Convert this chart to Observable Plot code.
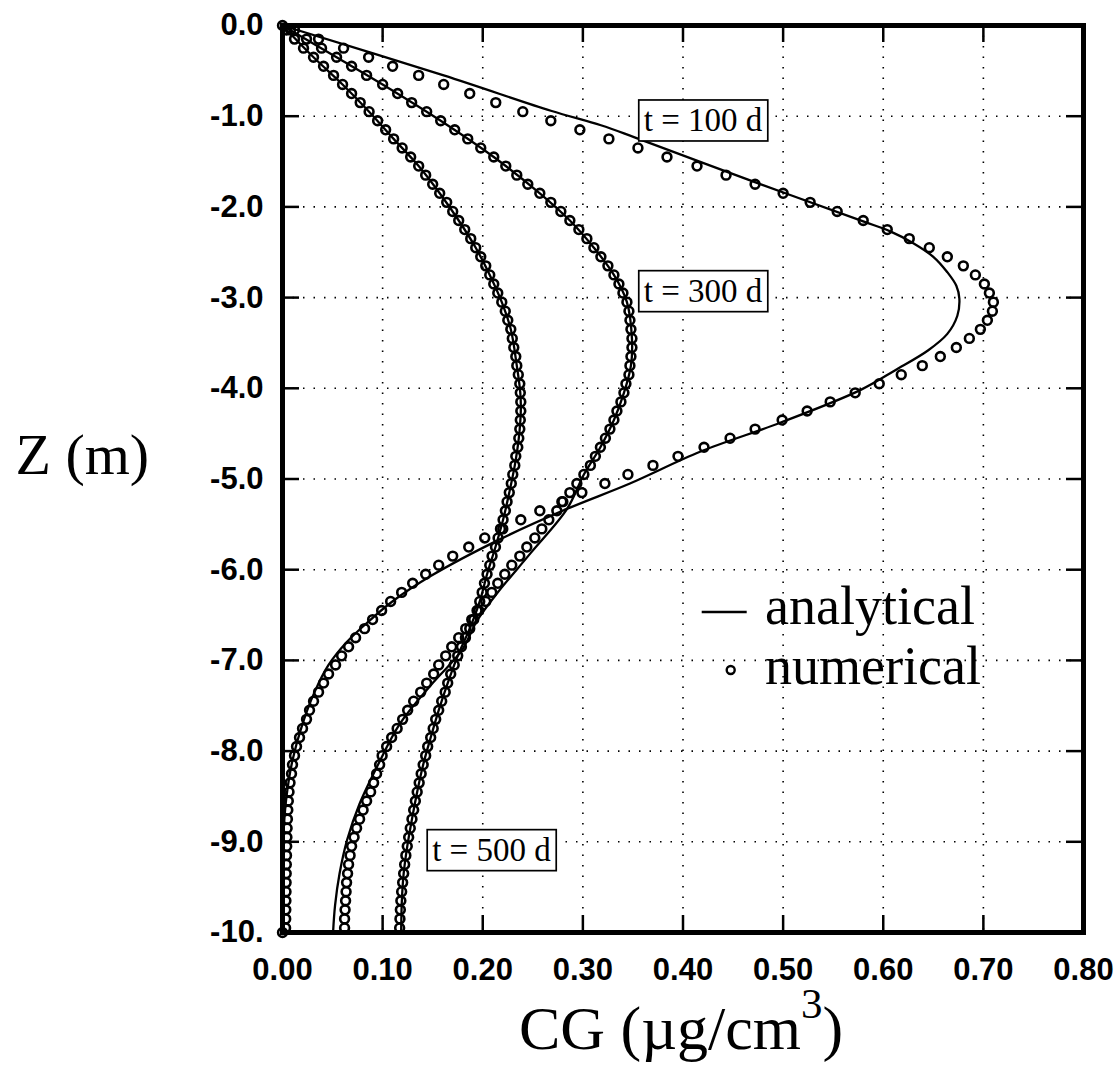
<!DOCTYPE html>
<html>
<head>
<meta charset="utf-8">
<script src="https://cdn.jsdelivr.net/npm/d3@7"></script>
<script src="https://cdn.jsdelivr.net/npm/@observablehq/plot@0.6"></script>
<style>
  body { margin: 0; background: #fff; }
  #wrap { position: relative; width: 1119px; height: 1086px; }
  #legend { position: absolute; left: 695px; top: 565px; overflow: visible; }
</style>
</head>
<body>
<div id="wrap"></div>
<script>
// ---------- data ----------
const depth = [
  -0.05,-0.15,-0.25,-0.35,-0.45,-0.55,-0.65,-0.75,-0.85,-0.95,
  -1.05,-1.15,-1.25,-1.35,-1.45,-1.55,-1.65,-1.75,-1.85,-1.95,
  -2.05,-2.15,-2.25,-2.35,-2.45,-2.55,-2.65,-2.75,-2.85,-2.95,
  -3.05,-3.15,-3.25,-3.35,-3.45,-3.55,-3.65,-3.75,-3.85,-3.95,
  -4.05,-4.15,-4.25,-4.35,-4.45,-4.55,-4.65,-4.75,-4.85,-4.95,
  -5.05,-5.15,-5.25,-5.35,-5.45,-5.55,-5.65,-5.75,-5.85,-5.95,
  -6.05,-6.15,-6.25,-6.35,-6.45,-6.55,-6.65,-6.75,-6.85,-6.95,
  -7.05,-7.15,-7.25,-7.35,-7.45,-7.55,-7.65,-7.75,-7.85,-7.95,
  -8.05,-8.15,-8.25,-8.35,-8.45,-8.55,-8.65,-8.75,-8.85,-8.95,
  -9.05,-9.15,-9.25,-9.35,-9.45,-9.55,-9.65,-9.75,-9.85,-9.95
];
const numerical100 = [
  0.012,0.036,0.061,0.086,0.110,0.136,0.161,0.187,0.213,0.240,
  0.268,0.297,0.326,0.355,0.384,0.414,0.443,0.472,0.500,0.527,
  0.554,0.580,0.604,0.626,0.646,0.664,0.680,0.692,0.701,0.706,
  0.710,0.709,0.704,0.697,0.686,0.673,0.657,0.639,0.618,0.596,
  0.572,0.547,0.524,0.499,0.472,0.447,0.421,0.395,0.370,0.345,
  0.322,0.299,0.279,0.257,0.238,0.220,0.202,0.186,0.170,0.156,
  0.143,0.130,0.119,0.108,0.099,0.090,0.082,0.073,0.066,0.059,
  0.053,0.046,0.041,0.036,0.031,0.027,0.024,0.020,0.017,0.014,
  0.012,0.010,0.009,0.0075,0.0065,0.0058,0.0053,0.0049,0.0046,0.0044,
  0.0042,0.0040,0.0038,0.0037,0.0036,0.0035,0.0034,0.0033,0.0032,0.0031
];
const numerical300 = [
  0.008,0.024,0.039,0.054,0.069,0.084,0.100,0.115,0.129,0.144,
  0.158,0.172,0.185,0.198,0.211,0.223,0.234,0.245,0.257,0.268,
  0.278,0.287,0.296,0.304,0.311,0.318,0.325,0.331,0.336,0.340,
  0.344,0.346,0.347,0.348,0.349,0.349,0.348,0.347,0.346,0.343,
  0.341,0.338,0.334,0.331,0.327,0.3225,0.3175,0.3125,0.3075,0.301,
  0.294,0.287,0.280,0.274,0.266,0.259,0.252,0.244,0.237,0.229,
  0.222,0.215,0.209,0.203,0.196,0.189,0.183,0.176,0.169,0.163,
  0.156,0.151,0.144,0.138,0.131,0.125,0.120,0.1145,0.109,0.104,
  0.0995,0.097,0.094,0.091,0.088,0.084,0.0805,0.077,0.074,0.0715,
  0.069,0.0675,0.066,0.065,0.064,0.0635,0.063,0.0625,0.062,0.062
];
const numerical500 = [
  0.004,0.012,0.021,0.031,0.041,0.051,0.060,0.069,0.0776,0.0865,
  0.095,0.103,0.111,0.1195,0.128,0.136,0.143,0.150,0.157,0.164,
  0.170,0.176,0.182,0.188,0.193,0.198,0.203,0.207,0.211,0.215,
  0.219,0.2225,0.225,0.228,0.2295,0.231,0.233,0.234,0.2355,0.237,
  0.2375,0.238,0.238,0.2375,0.237,0.236,0.235,0.233,0.232,0.230,
  0.2285,0.2265,0.2243,0.2226,0.2203,0.2177,0.2153,0.2127,0.2093,0.207,
  0.2043,0.2017,0.1994,0.197,0.1943,0.191,0.187,0.1827,0.1787,0.175,
  0.1715,0.168,0.165,0.1625,0.159,0.156,0.153,0.1505,0.148,0.145,
  0.143,0.1405,0.1385,0.1365,0.1345,0.1327,0.131,0.1293,0.1276,0.126,
  0.1246,0.1232,0.122,0.121,0.120,0.119,0.1182,0.1177,0.1173,0.117
];
const boundaryCG = [0, 0];
const boundaryZ = [0, -10];

const analytical100CG = [0,0.161,0.268,0.318,0.351,0.465,0.580,0.607,0.630,0.650,0.664,0.673,0.676,0.674,0.664,0.645,0.612,0.577,0.497,0.417,0.347,0.284,0.218,0.148,0.111,0.085,0.064,0.046,0.032,0.020,0.010,0.004,0.001,0,0];
const analytical100Z  = [0,-0.55,-0.94,-1.10,-1.23,-1.70,-2.16,-2.27,-2.40,-2.55,-2.72,-2.87,-3.01,-3.20,-3.40,-3.58,-3.80,-4.02,-4.38,-4.70,-5.05,-5.33,-5.66,-6.07,-6.34,-6.58,-6.80,-7.05,-7.35,-7.70,-8.10,-8.50,-8.90,-9.30,-10];
const analytical300CG = [0,0.054,0.100,0.158,0.211,0.257,0.287,0.311,0.331,0.344,0.349,0.348,0.341,0.331,0.3175,0.301,0.2842,0.2476,0.2143,0.1944,0.179,0.150,0.1178,0.0945,0.077,0.0645,0.057,0.0525,0.0505];
const analytical300Z  = [0,-0.35,-0.65,-1.05,-1.45,-1.85,-2.15,-2.45,-2.75,-3.05,-3.45,-3.75,-4.05,-4.35,-4.65,-4.95,-5.33,-5.82,-6.26,-6.56,-6.89,-7.25,-7.69,-8.17,-8.58,-8.98,-9.35,-9.70,-10];
const analytical500CG = [0,0.031,0.060,0.0865,0.111,0.136,0.157,0.176,0.193,0.207,0.219,0.228,0.234,0.2375,0.238,0.236,0.232,0.2265,0.2203,0.2127,0.2043,0.197,0.187,0.175,0.165,0.156,0.148,0.1405,0.1345,0.1293,0.1246,0.121,0.1192,0.1185];
const analytical500Z  = [0,-0.35,-0.65,-0.95,-1.25,-1.55,-1.85,-2.15,-2.45,-2.75,-3.05,-3.35,-3.75,-4.05,-4.25,-4.55,-4.85,-5.15,-5.45,-5.75,-6.05,-6.35,-6.65,-6.95,-7.25,-7.55,-7.85,-8.15,-8.45,-8.75,-9.05,-9.35,-9.65,-10];

const xTicks = [0, 0.1, 0.2, 0.3, 0.4, 0.5, 0.6, 0.7, 0.8];
const xTickLabels = ["0.00","0.10","0.20","0.30","0.40","0.50","0.60","0.70","0.80"];
const yTicks = [0, -1, -2, -3, -4, -5, -6, -7, -8, -9, -10];
const yTickLabels = ["0.0","-1.0","-2.0","-3.0","-4.0","-5.0","-6.0","-7.0","-8.0","-9.0","-10."];
const innerXTicks = [0.1, 0.2, 0.3, 0.4, 0.5, 0.6, 0.7];
const innerYTicks = [-1, -2, -3, -4, -5, -6, -7, -8, -9];

const timeLabels = ["t = 100 d", "t = 300 d", "t = 500 d"];
const timeLabelCG = [0.420, 0.420, 0.2087];
const timeLabelZ = [-1.052, -2.934, -9.097];

const yTitle = "Z (m)";
const xTitleParts = ["CG (\u00b5g/cm", "3", ")"];
const legendLabels = ["analytical", "numerical"];

// ---------- layout / style ----------
const W = 1119, H = 1086, mL = 282, mR = 36, mT = 25, mB = 154;
const frameW = W - mL - mR, frameH = H - mT - mB;
const tickLen = 17;
const serif = "'Liberation Serif', 'Times New Roman', serif";

const numRows = [];
[[numerical100, "100"], [numerical300, "300"], [numerical500, "500"]].forEach(([vals, s]) =>
  vals.forEach((v, i) => numRows.push({cg: v, z: depth[i], s})));
boundaryCG.forEach((v, i) => numRows.push({cg: v, z: boundaryZ[i], s: "boundary"}));

const anaRows = [];
[[analytical100CG, analytical100Z, "100"], [analytical300CG, analytical300Z, "300"], [analytical500CG, analytical500Z, "500"]]
  .forEach(([xs, zs, s]) => xs.forEach((v, i) => anaRows.push({cg: v, z: zs[i], s})));

const xTitle = xTitleParts.join("");

const chart = Plot.plot({
  width: W, height: H,
  marginLeft: mL, marginRight: mR, marginTop: mT, marginBottom: mB,
  x: {domain: [0, 0.8]},
  y: {domain: [-10, 0]},
  style: {fontFamily: "'Liberation Sans', Arial, sans-serif", fontSize: "31px", fontWeight: "bold", background: "white", color: "black", overflow: "visible"},
  marks: [
    Plot.ruleX(innerXTicks, {x: d => d, stroke: "black", strokeWidth: 1.6, strokeDasharray: "1.5,9"}),
    Plot.ruleY(innerYTicks, {y: d => d, stroke: "black", strokeWidth: 1.6, strokeDasharray: "1.5,9"}),
    Plot.line(anaRows, {x: "cg", y: "z", z: "s", curve: "catmull-rom", stroke: "black", strokeWidth: 2.3}),
    Plot.dot(numRows, {x: "cg", y: "z", r: 4.4, stroke: "black", strokeWidth: 2.6, fill: "none"}),
    Plot.ruleX(innerXTicks, {x: d => d, insetBottom: frameH - tickLen, stroke: "black", strokeWidth: 2.5}),
    Plot.ruleX(innerXTicks, {x: d => d, insetTop: frameH - tickLen, stroke: "black", strokeWidth: 2.5}),
    Plot.ruleY(innerYTicks, {y: d => d, insetRight: frameW - tickLen, stroke: "black", strokeWidth: 2.5}),
    Plot.ruleY(innerYTicks, {y: d => d, insetLeft: frameW - tickLen, stroke: "black", strokeWidth: 2.5}),
    Plot.frame({stroke: "black", strokeWidth: 5}),
    Plot.axisX({ticks: xTicks, tickFormat: d => xTickLabels[xTicks.indexOf(d)], tickSize: 0, tickPadding: 25, label: null}),
    Plot.axisY({ticks: yTicks, tickFormat: d => yTickLabels[yTicks.indexOf(d)], tickSize: 0, tickPadding: 19, label: null}),
    Plot.text(timeLabels, {x: (d, i) => timeLabelCG[i], y: (d, i) => timeLabelZ[i], text: d => d,
      fontFamily: serif, fontSize: 33, fontWeight: "normal", fill: "black"}),
    Plot.text([yTitle], {frameAnchor: "left", textAnchor: "start", dx: -267, dy: -24, text: d => d,
      fontFamily: serif, fontSize: 58, fontWeight: "normal", fill: "black"}),
    Plot.text([xTitle], {frameAnchor: "bottom", textAnchor: "middle", dx: -2, dy: 116, text: d => d,
      fontFamily: serif, fontSize: 62, fontWeight: "normal", fill: "black"})
  ]
});

const wrap = document.getElementById("wrap");
wrap.appendChild(chart);

const NS = "http://www.w3.org/2000/svg";
// boxes around the time labels, superscript in the x title
chart.querySelectorAll("text").forEach(t => {
  if (timeLabels.includes(t.textContent)) {
    const b = t.getBBox();
    const padX = 5, padY = 2.5;
    const rect = document.createElementNS(NS, "rect");
    rect.setAttribute("x", b.x - padX);
    rect.setAttribute("y", b.y - padY);
    rect.setAttribute("width", b.width + 2 * padX);
    rect.setAttribute("height", b.height + 2 * padY);
    rect.setAttribute("fill", "white");
    rect.setAttribute("stroke", "black");
    rect.setAttribute("stroke-width", 1.7);
    const tr = t.getAttribute("transform");
    if (tr) rect.setAttribute("transform", tr);
    t.parentNode.insertBefore(rect, t);
  }
  if (t.textContent === xTitle) {
    t.textContent = "";
    const a = document.createElementNS(NS, "tspan");
    a.textContent = xTitleParts[0];
    const s = document.createElementNS(NS, "tspan");
    s.textContent = xTitleParts[1];
    s.setAttribute("font-size", "43");
    s.setAttribute("dy", "-31");
    const c = document.createElementNS(NS, "tspan");
    c.textContent = xTitleParts[2];
    c.setAttribute("dy", "31");
    t.append(a, s, c);
  }
});

// legend
const lg = document.createElementNS(NS, "svg");
lg.setAttribute("id", "legend");
lg.setAttribute("width", 330);
lg.setAttribute("height", 150);
const ln = document.createElementNS(NS, "line");
ln.setAttribute("x1", 6.7); ln.setAttribute("x2", 51.7);
ln.setAttribute("y1", 47); ln.setAttribute("y2", 47);
ln.setAttribute("stroke", "black"); ln.setAttribute("stroke-width", 2.3);
const ci = document.createElementNS(NS, "circle");
ci.setAttribute("cx", 35.7); ci.setAttribute("cy", 105); ci.setAttribute("r", 4);
ci.setAttribute("fill", "none"); ci.setAttribute("stroke", "black"); ci.setAttribute("stroke-width", 2.4);
lg.append(ln, ci);
legendLabels.forEach((lab, i) => {
  const tx = document.createElementNS(NS, "text");
  tx.setAttribute("x", 70);
  tx.setAttribute("y", 59 + i * 60);
  tx.setAttribute("font-family", serif);
  tx.setAttribute("font-size", 54);
  tx.setAttribute("fill", "black");
  tx.textContent = lab;
  lg.appendChild(tx);
});
wrap.appendChild(lg);
</script>
</body>
</html>
